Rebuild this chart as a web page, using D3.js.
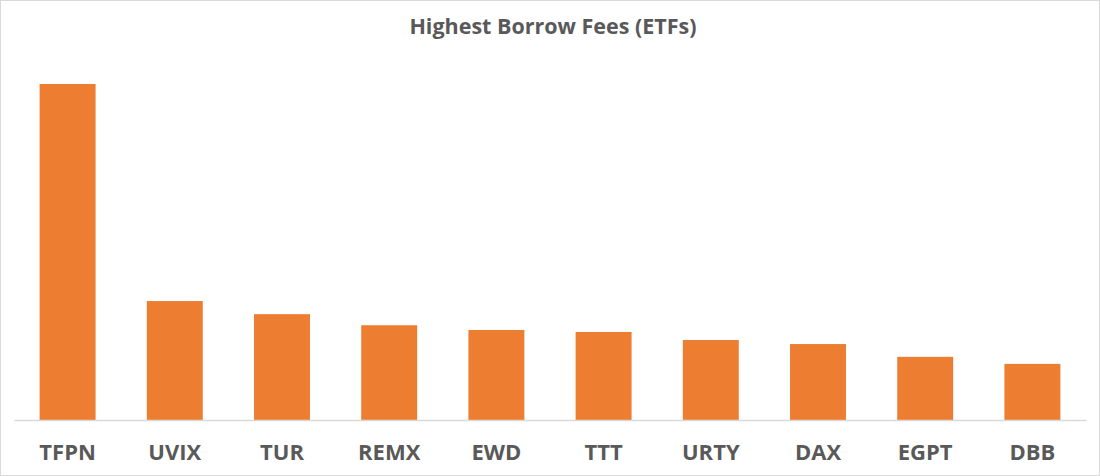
<!DOCTYPE html>
<html>
<head>
<meta charset="utf-8">
<script src="https://cdn.jsdelivr.net/npm/d3@7"></script>
<style>
  body { margin: 0; background: #fff; }
  #wrap { width: 1100px; height: 476px; }
</style>
</head>
<body>
<div id="wrap"></div>
<script>
// data (relative fee level)
const tickers = ["TFPN", "UVIX", "TUR", "REMX", "EWD", "TTT", "URTY", "DAX", "EGPT", "DBB"];
const fees = [100, 35.4, 31.5, 28.2, 26.8, 26.2, 23.8, 22.6, 18.8, 16.7];

const width = 1100;
const height = 476;
const barColor = "#ED7D31";
const textColor = "#595959";
const lineColor = "#D9D9D9";

let svg = d3.select("#wrap")
  .append("svg")
  .attr("width", width)
  .attr("height", height);

// outer frame
svg.append("rect")
  .attr("x", 0.5)
  .attr("y", 0.5)
  .attr("width", width - 1)
  .attr("height", height - 1)
  .attr("fill", "#fff")
  .attr("stroke", lineColor);

// title
svg.append("text")
  .attr("x", 553)
  .attr("y", 34)
  .attr("text-anchor", "middle")
  .attr("font-family", "'Open Sans', sans-serif")
  .attr("font-weight", "bold")
  .attr("font-size", 21.5)
  .attr("fill", textColor)
  .text("Highest Borrow Fees (ETFs)");

// scales
const xScale = d3.scaleBand()
  .domain(tickers)
  .range([14, 1086])
  .paddingInner(0.478)
  .paddingOuter(0.239);

const yScale = d3.scaleLinear()
  .domain([0, 100])
  .range([420, 84]);

// bars
svg.selectAll("rect.bar")
  .data(tickers)
  .enter()
  .append("rect")
  .attr("class", "bar")
  .attr("x", d => xScale(d))
  .attr("y", (d, i) => yScale(fees[i]))
  .attr("width", xScale.bandwidth())
  .attr("height", (d, i) => yScale(0) - yScale(fees[i]))
  .attr("fill", barColor);

// x axis
const xAxis = d3.axisBottom(xScale).tickSize(0).tickPadding(24);
const gAxis = svg.append("g").attr("transform", "translate(0," + yScale(0) + ")");
xAxis(gAxis);
gAxis.select(".domain").attr("stroke", lineColor).attr("stroke-width", 1.3);
gAxis.selectAll("text")
  .attr("font-family", "'Open Sans', sans-serif")
  .attr("font-weight", "bold")
  .attr("font-size", 22)
  .attr("fill", textColor);
</script>
</body>
</html>
